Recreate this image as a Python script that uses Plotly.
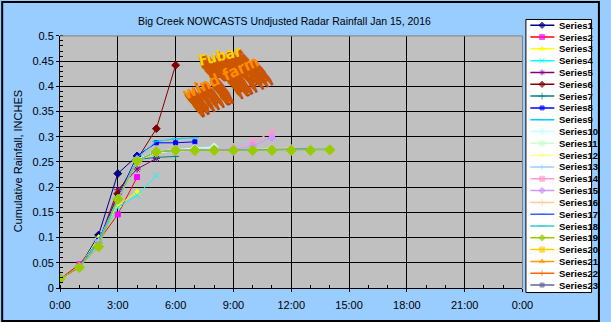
import plotly.graph_objects as go

# ---------------- data ----------------
HOURS = list(range(0, 15))
SERIES_NAMES = [f"Series{i}" for i in range(1, 24)]

S1 = [0.018, 0.041, 0.105, 0.227, 0.262]
S2 = [0.018, 0.047, 0.093, 0.146, 0.220]
S3 = [0.018, 0.041, 0.100, 0.164, 0.190]
S4 = [0.018, 0.041, 0.095, 0.160, 0.184, 0.223]
S5 = [0.018, 0.041, 0.090, 0.195, 0.236, 0.257]
S6 = [0.018, 0.041, 0.090, 0.187, 0.255, 0.316, 0.442]
S7 = [0.018, 0.041, 0.090, 0.175, 0.255, 0.259, 0.261]
S8 = [0.018, 0.041, 0.095, 0.180, 0.262, 0.288, 0.288, 0.290]
S9 = [0.018, 0.041, 0.095, 0.178, 0.258, 0.291, 0.296, 0.298]
S10 = [0.018, 0.041, 0.090, 0.176, 0.255, 0.271, 0.275, 0.277, 0.280]
S11 = [0.018, 0.041, 0.090, 0.176, 0.253, 0.270, 0.273, 0.275, 0.277]
S12 = [0.018, 0.041, 0.090, 0.176, 0.252, 0.268, 0.272, 0.273, 0.274, 0.275]
S13 = [0.018, 0.041, 0.090, 0.176, 0.253, 0.270, 0.273, 0.274, 0.275, 0.282, 0.293]
S14 = [0.018, 0.041, 0.090, 0.176, 0.253, 0.270, 0.273, 0.274, 0.275, 0.278, 0.291, 0.308]
S15 = [0.018, 0.041, 0.090, 0.176, 0.253, 0.270, 0.273, 0.273, 0.274, 0.274, 0.282, 0.298]
S16 = [0.018, 0.041, 0.090, 0.176, 0.253, 0.270, 0.273, 0.273, 0.274, 0.274, 0.275, 0.276, 0.278]
S17 = [0.018, 0.041, 0.090, 0.176, 0.253, 0.270, 0.273, 0.273, 0.273, 0.274, 0.274, 0.275, 0.275, 0.276]
S18 = [0.018, 0.041, 0.090, 0.176, 0.253, 0.270, 0.273, 0.273, 0.273, 0.274, 0.274, 0.274, 0.275, 0.275, 0.276]
S19 = [0.018, 0.041, 0.082, 0.176, 0.252, 0.270, 0.273, 0.273, 0.273, 0.273, 0.273, 0.273, 0.273, 0.273, 0.274]
S20 = [0.018, 0.041]
S21 = [0.018, 0.041]
S22 = [0.018, 0.041]
S23 = [0.018, 0.041]
SERIES_VALUES = [S1, S2, S3, S4, S5, S6, S7, S8, S9, S10, S11, S12,
                 S13, S14, S15, S16, S17, S18, S19, S20, S21, S22, S23]

LINE_COLORS = ["#000080", "#FF0000", "#FFFF00", "#00FFFF", "#800080", "#800000",
               "#008080", "#0000FF", "#00CCFF", "#CCFFFF", "#CCFFCC", "#FFFF99",
               "#99CCFF", "#FF99CC", "#CC99FF", "#FFCC99", "#3366FF", "#33CCCC",
               "#99CC00", "#FFCC00", "#FF9900", "#FF6600", "#666699"]
MARKER_COLORS = ["#000080", "#FF00FF", "#FFFF00", "#00FFFF", "#800080", "#800000",
                 "#008080", "#0000FF", "#00CCFF", "#CCFFFF", "#CCFFCC", "#FFFF99",
                 "#99CCFF", "#FF99CC", "#CC99FF", "#FFCC99", "#3366FF", "#33CCCC",
                 "#99CC00", "#FFCC00", "#FF9900", "#FF6600", "#666699"]
MARKER_SYMBOLS = ["diamond", "square", "triangle-up", "x-thin-open", "asterisk-open", "diamond",
                  "cross-thin-open", "square", "line-ew-open", "diamond", "square", "triangle-up",
                  "line-ns-open", "square", "diamond", "cross-thin-open", "line-ew-open", "line-ew-open",
                  "diamond", "square", "triangle-up", "line-ns-open", "square"]
MARKER_SIZES = [6, 5, 6, 6, 6, 6, 5, 4, 6, 6, 5, 6,
                4, 5, 6, 5, 5, 5, 8, 5, 6, 4, 4]

X_TICK_VALUES = [0, 3, 6, 9, 12, 15, 18, 21, 24]
X_TICK_LABELS = ["0:00", "3:00", "6:00", "9:00", "12:00", "15:00", "18:00", "21:00", "0:00"]

TITLE = "Big Creek NOWCASTS Undjusted Radar Rainfall Jan 15, 2016"
Y_TITLE = "Cumulative Rainfall, INCHES"

# ---------------- layout geometry (pixels) ----------------
W, H = 611, 322
ML, MR, MT, MB = 60, 5, 10, 25
PW, PH = W - ML - MR, H - MT - MB


def px_x(p):
    return (p - ML) / PW


def px_y(p):
    return (H - MB - p) / PH


PLOT_L, PLOT_R, PLOT_T, PLOT_B = 60, 532, 35, 288
LEG_L, LEG_R, LEG_T, LEG_B = 535.5, 602.5, 18.5, 292.5
LEG_ROW0, LEG_ROWSTEP = 24.3, 11.85

FONT = "Arial, Liberation Sans, sans-serif"

fig = go.Figure()

# draw order: keep Series19 on top (legend order unchanged)
draw_order = [i for i in range(23) if i != 18] + [18]
for i in draw_order:
    vals = SERIES_VALUES[i]
    fig.add_trace(go.Scatter(
        x=HOURS[:len(vals)], y=vals, mode="lines+markers",
        name=SERIES_NAMES[i], showlegend=False,
        line=dict(color=LINE_COLORS[i], width=1),
        marker=dict(symbol=MARKER_SYMBOLS[i], size=MARKER_SIZES[i],
                    color=MARKER_COLORS[i],
                    line=dict(color=MARKER_COLORS[i], width=1)),
        xaxis="x", yaxis="y", hoverinfo="x+y+name"))

# manual legend (plotly's legend rows can't be this compact)
for i, name in enumerate(SERIES_NAMES):
    ry = LEG_ROW0 + LEG_ROWSTEP * i
    fig.add_trace(go.Scatter(
        x=[540, 552, 564.5], y=[ry, ry, ry], mode="lines+markers",
        showlegend=False, hoverinfo="skip",
        line=dict(color=LINE_COLORS[i], width=1.5),
        marker=dict(symbol=MARKER_SYMBOLS[i], size=[0, min(MARKER_SIZES[i], 5), 0],
                    color=MARKER_COLORS[i], line=dict(color=MARKER_COLORS[i], width=1)),
        xaxis="x2", yaxis="y2"))

annotations = []
for i, name in enumerate(SERIES_NAMES):
    ry = LEG_ROW0 + LEG_ROWSTEP * i
    annotations.append(dict(
        x=567.5, y=ry, xref="x2", yref="y2", text=f"<b>{name}</b>", showarrow=False,
        xanchor="left", yanchor="middle", font=dict(family=FONT, size=9.5, color="black")))

# y-axis title
annotations.append(dict(
    x=px_x(18), y=px_y(161), xref="paper", yref="paper", text=Y_TITLE, showarrow=False,
    textangle=-90, xanchor="center", yanchor="middle",
    font=dict(family=FONT, size=11, color="black")))

# "Fubar wind farm" 3D word-art approximation
WA_FONT = "DejaVu Sans Condensed, Liberation Sans Narrow, Arial Narrow, Arial, sans-serif"
wordart = [
    ("Fubar", 223, 55, -14, 15, "#FFD200"),
    ("wind farm", 224, 77, -25, 16, "#FF8C00"),
]
NLAYERS = 16
for text, cx, cy, ang, size, front in wordart:
    for k in range(NLAYERS, 0, -1):
        shade = "#B84600" if k == NLAYERS else "#CC5500"
        annotations.append(dict(
            x=px_x(cx + k * 0.9), y=px_y(cy + k * 1.15), xref="paper", yref="paper",
            text=f"<b>{text}</b>", showarrow=False, textangle=ang,
            xanchor="center", yanchor="middle",
            font=dict(family=WA_FONT, size=size, color=shade)))
    annotations.append(dict(
        x=px_x(cx), y=px_y(cy), xref="paper", yref="paper",
        text=f"<b>{text}</b>", showarrow=False, textangle=ang,
        xanchor="center", yanchor="middle",
        font=dict(family=WA_FONT, size=size, color=front)))

shapes = [
    # legend box
    dict(type="rect", xref="x2 domain", yref="y2 domain", x0=0, x1=1, y0=0, y1=1,
         fillcolor="white", line=dict(color="black", width=1), layer="below"),
    # plot area top & right border (gray)
    dict(type="line", xref="x domain", yref="y domain", x0=0, x1=1, y0=1, y1=1,
         line=dict(color="#808080", width=1), layer="above"),
    dict(type="line", xref="x domain", yref="y domain", x0=1, x1=1, y0=0, y1=1,
         line=dict(color="#808080", width=1), layer="above"),
    # outer chart border
    dict(type="rect", xref="paper", yref="paper",
         x0=px_x(1), x1=px_x(610), y0=px_y(321), y1=px_y(1),
         line=dict(color="black", width=2), layer="above"),
]

fig.update_layout(
    width=W, height=H,
    margin=dict(l=ML, r=MR, t=MT, b=MB, pad=0),
    paper_bgcolor="#99CCFF", plot_bgcolor="#C0C0C0",
    showlegend=False,
    title=dict(text=TITLE, x=px_x(289), xref="paper", xanchor="center",
               y=1 - 21 / H, yref="container", yanchor="middle",
               font=dict(family=FONT, size=10.5, color="black")),
    xaxis=dict(domain=[px_x(PLOT_L), px_x(PLOT_R)], range=[0, 24], anchor="y",
               tickmode="array", tickvals=X_TICK_VALUES, ticktext=X_TICK_LABELS,
               showgrid=True, gridcolor="black", gridwidth=1, zeroline=False,
               showline=True, linecolor="black", linewidth=1,
               ticks="outside", ticklen=3, tickcolor="black", tickwidth=1,
               ticklabelstandoff=4,
               minor=dict(tickmode="linear", tick0=0, dtick=1, ticks="inside",
                          ticklen=3, tickcolor="black", showgrid=False),
               tickfont=dict(family=FONT, size=11, color="black"), fixedrange=True),
    yaxis=dict(domain=[px_y(PLOT_B), px_y(PLOT_T)], range=[0, 0.5], anchor="x",
               tickmode="linear", tick0=0, dtick=0.05,
               showgrid=True, gridcolor="black", gridwidth=1, zeroline=False,
               showline=True, linecolor="black", linewidth=1,
               ticks="outside", ticklen=3, tickcolor="black", tickwidth=1,
               minor=dict(tickmode="linear", tick0=0, dtick=0.01, ticks="inside",
                          ticklen=3, tickcolor="black", showgrid=False),
               tickfont=dict(family=FONT, size=11, color="black"), fixedrange=True),
    xaxis2=dict(domain=[px_x(LEG_L), px_x(LEG_R)], range=[LEG_L, LEG_R], anchor="y2",
                visible=False, showgrid=False, zeroline=False, fixedrange=True),
    yaxis2=dict(domain=[px_y(LEG_B), px_y(LEG_T)], range=[LEG_B, LEG_T], anchor="x2",
                visible=False, showgrid=False, zeroline=False, fixedrange=True),
    annotations=annotations,
    shapes=shapes,
)

fig.write_html("out.html")
